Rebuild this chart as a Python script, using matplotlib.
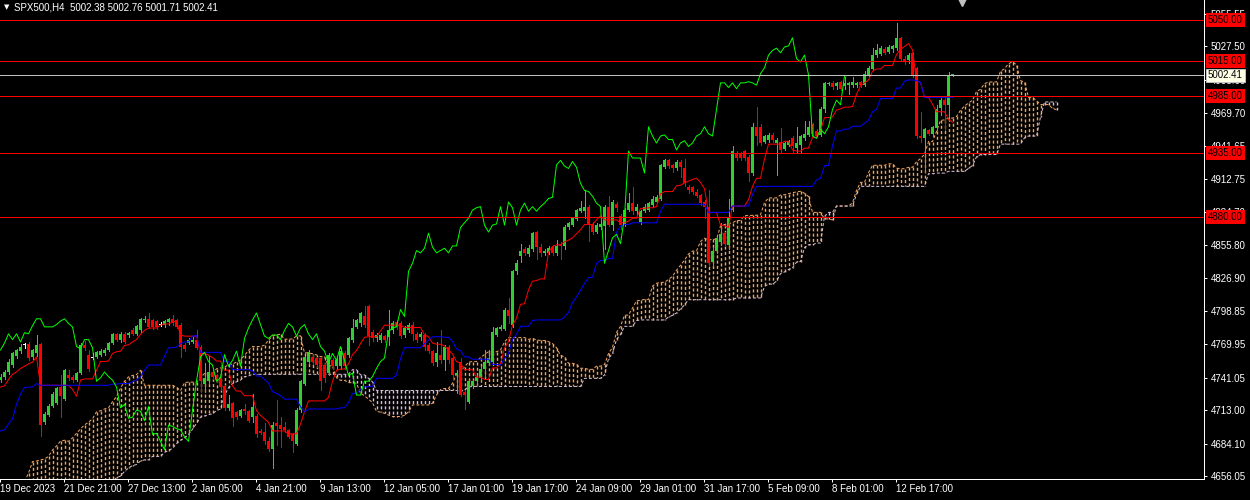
import numpy as np
import pandas as pd
import matplotlib
matplotlib.use("Agg")
import matplotlib.pyplot as plt
from matplotlib import transforms

plt.rcParams['font.family'] = ['Liberation Sans', 'DejaVu Sans']

# SPX500 H4 candles, bar 0 = first bar on screen (19 Dec 2023)
opens = [4739, 4742, 4746, 4752, 4760, 4764, 4769, 4770, 4759, 4762,
         4770, 4703, 4709, 4717, 4719, 4733, 4723, 4743, 4742, 4739,
         4745, 4769, 4761, 4758, 4759, 4761, 4762, 4765, 4771, 4779,
         4774, 4779, 4778, 4782, 4779, 4782, 4791, 4792, 4791, 4790,
         4787, 4787, 4789, 4792, 4791, 4787, 4769, 4771, 4772, 4774,
         4768, 4736, 4738, 4746, 4743, 4742, 4734, 4715, 4719, 4711,
         4708, 4714, 4712, 4707, 4708, 4695, 4694, 4686, 4679, 4702,
         4700, 4698, 4696, 4692, 4684, 4713, 4736, 4755, 4759, 4758,
         4758, 4752, 4745, 4756, 4751, 4751, 4762, 4761, 4774, 4785,
         4788, 4794, 4803, 4781, 4775, 4774, 4777, 4776, 4782, 4789,
         4788, 4778, 4782, 4787, 4779, 4776, 4778, 4769, 4764, 4755,
         4761, 4756, 4768, 4758, 4743, 4755, 4729, 4720, 4734, 4738,
         4741, 4749, 4754, 4755, 4778, 4783, 4783, 4800, 4787, 4833,
         4846, 4852, 4848, 4852, 4867, 4854, 4849, 4849, 4854, 4849,
         4856, 4855, 4871, 4873, 4878, 4885, 4885, 4889, 4874, 4867,
         4871, 4872, 4889, 4873, 4891, 4881, 4873, 4886, 4892, 4885,
         4876, 4885, 4886, 4890, 4893, 4896, 4923, 4929, 4925, 4922,
         4928, 4922, 4906, 4906, 4902, 4899, 4893, 4889, 4841, 4851,
         4858, 4866, 4856, 4886, 4935, 4935, 4937, 4932, 4918, 4958,
         4958, 4945, 4947, 4951, 4944, 4945, 4939, 4942, 4948, 4940,
         4942, 4948, 4951, 4960, 4954, 4951, 4973, 4995, 4996, 4993,
         4997, 4993, 4994, 4994, 4994, 4997, 4994, 5003, 5008, 5020,
         5021, 5025, 5023, 5025, 5026, 5035, 5017, 5016, 5022, 5009,
         4950, 4948, 4955, 4952, 4957, 4974, 4981, 4977, 5002.38]
highs = [4744, 4748, 4757, 4763, 4766, 4770, 4771, 4772, 4766, 4778,
         4771, 4711, 4718, 4729, 4733, 4743, 4749, 4748, 4743, 4746,
         4771, 4773, 4765, 4762, 4764, 4766, 4767, 4772, 4780, 4780,
         4781, 4781, 4781, 4784, 4787, 4793, 4794, 4797, 4792, 4791,
         4789, 4791, 4793, 4795, 4792, 4788, 4771, 4775, 4776, 4782,
         4769, 4754, 4760, 4748, 4744, 4752, 4735, 4726, 4720, 4712,
         4714, 4718, 4713, 4727, 4710, 4697, 4702, 4690, 4703, 4722,
         4707, 4703, 4697, 4693, 4715, 4739, 4760, 4765, 4761, 4759,
         4759, 4754, 4762, 4758, 4758, 4767, 4764, 4776, 4792, 4792,
         4798, 4803, 4804, 4782, 4780, 4780, 4778, 4800, 4790, 4791,
         4790, 4786, 4788, 4789, 4781, 4781, 4780, 4771, 4765, 4772,
         4782, 4769, 4769, 4759, 4748, 4758, 4730, 4739, 4739, 4743,
         4751, 4765, 4765, 4785, 4785, 4787, 4801, 4810, 4834, 4843,
         4857, 4854, 4856, 4867, 4868, 4857, 4852, 4855, 4856, 4860,
         4858, 4873, 4876, 4880, 4887, 4894, 4903, 4890, 4876, 4875,
         4876, 4890, 4898, 4895, 4893, 4883, 4888, 4901, 4906, 4891,
         4886, 4891, 4893, 4898, 4899, 4926, 4930, 4930, 4926, 4929,
         4929, 4930, 4908, 4907, 4904, 4900, 4895, 4903, 4853, 4864,
         4875, 4867, 4896, 4941, 4937, 4936, 4938, 4934, 4961, 4975,
         4960, 4951, 4953, 4953, 4948, 4957, 4945, 4947, 4950, 4958,
         4951, 4963, 4963, 4961, 4956, 4975, 4997, 4997, 4998, 4997,
         4998, 5001, 4997, 5001, 4997, 4998, 5006, 5011, 5026, 5030,
         5028, 5027, 5029, 5029, 5048, 5036, 5019, 5022, 5023, 5010,
         4971, 4957, 4956, 4959, 4977, 4983, 4984, 5005, 5002.76]
lows = [4737, 4740, 4744, 4750, 4758, 4762, 4767, 4756, 4757, 4760,
        4691, 4701, 4708, 4716, 4718, 4707, 4722, 4739, 4737, 4738,
        4744, 4765, 4747, 4757, 4758, 4760, 4761, 4764, 4770, 4773,
        4772, 4771, 4776, 4778, 4778, 4781, 4789, 4784, 4783, 4783,
        4786, 4785, 4787, 4787, 4784, 4759, 4764, 4770, 4771, 4766,
        4729, 4729, 4736, 4740, 4737, 4730, 4713, 4713, 4699, 4705,
        4707, 4710, 4703, 4703, 4690, 4692, 4684, 4678, 4663, 4683,
        4681, 4694, 4689, 4677, 4683, 4711, 4735, 4753, 4753, 4750,
        4730, 4737, 4743, 4749, 4749, 4749, 4749, 4759, 4772, 4784,
        4786, 4785, 4769, 4773, 4773, 4772, 4772, 4769, 4780, 4783,
        4775, 4776, 4781, 4774, 4772, 4774, 4765, 4762, 4752, 4751,
        4754, 4748, 4754, 4741, 4728, 4725, 4714, 4719, 4732, 4735,
        4739, 4742, 4752, 4753, 4777, 4782, 4782, 4788, 4785, 4831,
        4841, 4847, 4846, 4851, 4844, 4846, 4847, 4848, 4847, 4847,
        4844, 4852, 4870, 4872, 4877, 4884, 4879, 4859, 4865, 4866,
        4870, 4852, 4872, 4869, 4885, 4870, 4872, 4885, 4883, 4883,
        4874, 4884, 4885, 4889, 4892, 4895, 4922, 4922, 4919, 4921,
        4915, 4907, 4901, 4900, 4897, 4890, 4879, 4838, 4838, 4849,
        4856, 4856, 4852, 4885, 4929, 4929, 4929, 4911, 4916, 4942,
        4942, 4944, 4945, 4945, 4916, 4935, 4938, 4941, 4935, 4935,
        4935, 4947, 4950, 4950, 4949, 4950, 4971, 4994, 4991, 4991,
        4990, 4991, 4986, 4992, 4992, 4992, 4993, 5002, 5007, 5018,
        5020, 5021, 5022, 5023, 5024, 5015, 5012, 5013, 5001, 4948,
        4945, 4919, 4951, 4950, 4955, 4968, 4955, 4963, 5001.71]
closes = [4742, 4746, 4755, 4762, 4765, 4768, 4769, 4758, 4765, 4769,
          4700, 4710, 4717, 4727, 4732, 4725, 4748, 4741, 4739, 4745,
          4769, 4767, 4749, 4758, 4763, 4764, 4765, 4771, 4779, 4774,
          4779, 4772, 4780, 4779, 4786, 4792, 4792, 4785, 4785, 4785,
          4787, 4790, 4792, 4788, 4785, 4768, 4766, 4774, 4774, 4767,
          4738, 4741, 4746, 4742, 4739, 4733, 4715, 4718, 4706, 4707,
          4713, 4712, 4704, 4716, 4692, 4693, 4686, 4679, 4700, 4699,
          4697, 4696, 4690, 4686, 4713, 4738, 4759, 4763, 4755, 4752,
          4738, 4741, 4761, 4751, 4756, 4764, 4751, 4775, 4784, 4791,
          4797, 4787, 4777, 4775, 4778, 4778, 4774, 4782, 4788, 4785,
          4777, 4784, 4787, 4779, 4774, 4779, 4768, 4764, 4754, 4762,
          4756, 4768, 4756, 4743, 4745, 4726, 4726, 4738, 4738, 4742,
          4749, 4755, 4758, 4781, 4784, 4785, 4800, 4794, 4833, 4840,
          4851, 4849, 4853, 4866, 4854, 4849, 4851, 4853, 4849, 4855,
          4855, 4871, 4875, 4879, 4886, 4888, 4889, 4873, 4867, 4873,
          4874, 4889, 4873, 4893, 4888, 4873, 4886, 4892, 4885, 4889,
          4885, 4889, 4892, 4896, 4897, 4925, 4929, 4924, 4922, 4928,
          4923, 4909, 4903, 4902, 4898, 4892, 4889, 4840, 4851, 4862,
          4865, 4857, 4880, 4937, 4931, 4931, 4931, 4918, 4958, 4950,
          4944, 4950, 4951, 4947, 4947, 4938, 4944, 4946, 4941, 4944,
          4950, 4952, 4958, 4952, 4950, 4973, 4996, 4996, 4992, 4996,
          4991, 4996, 4996, 4997, 4996, 4994, 5004, 5009, 5020, 5024,
          5026, 5022, 5027, 5028, 5035, 5017, 5014, 5020, 5003, 4950,
          4948, 4956, 4952, 4958, 4973, 4981, 4977, 5002, 5002.41]

# bars before the screen (early December), only feed the ichimoku windows
pre_high = [4566, 4560, 4572, 4588, 4592, 4585, 4578, 4570, 4565, 4568,
            4575, 4580, 4574, 4569, 4572, 4578, 4580, 4576, 4579, 4584,
            4590, 4582, 4576, 4570, 4566, 4568, 4572, 4570, 4566, 4562,
            4560, 4568, 4575, 4580, 4585, 4583, 4590, 4588, 4595, 4600,
            4602, 4605, 4604, 4608, 4612, 4618, 4622, 4625, 4632, 4640,
            4648, 4650, 4652, 4655, 4658, 4665, 4695, 4712, 4720, 4738,
            4730, 4715, 4718, 4720, 4722, 4725, 4722, 4728, 4730, 4734,
            4738, 4742, 4745, 4744, 4746, 4750, 4746]
pre_low = [4552, 4548, 4550, 4566, 4575, 4570, 4560, 4555, 4549, 4552,
           4560, 4563, 4558, 4553, 4556, 4562, 4566, 4560, 4562, 4568,
           4572, 4565, 4558, 4554, 4550, 4553, 4558, 4555, 4551, 4548,
           4546, 4550, 4555, 4558, 4562, 4560, 4565, 4562, 4568, 4570,
           4568, 4575, 4578, 4582, 4590, 4596, 4600, 4606, 4615, 4625,
           4636, 4638, 4640, 4642, 4645, 4648, 4670, 4684, 4695, 4705,
           4705, 4694, 4700, 4703, 4706, 4708, 4705, 4710, 4712, 4716,
           4718, 4722, 4725, 4726, 4728, 4731, 4734]

levels = [5050.00, 5015.00, 4985.00, 4935.00, 4880.00]
price_ticks = [5055.55, 5027.50, 4998.60, 4969.70, 4941.65, 4912.75, 4884.70,
               4855.80, 4826.90, 4798.85, 4769.95, 4741.05, 4713.00, 4684.10,
               4656.05]
date_ticks = [-1, 15, 31, 47, 63, 79, 95, 111, 127, 143, 159, 175, 191, 207, 223]
date_labels = ['19 Dec 2023', '21 Dec 21:00', '27 Dec 13:00', '2 Jan 05:00',
               '4 Jan 21:00', '9 Jan 13:00', '12 Jan 05:00', '17 Jan 01:00',
               '19 Jan 17:00', '24 Jan 09:00', '29 Jan 01:00', '31 Jan 17:00',
               '5 Feb 09:00', '8 Feb 01:00', '12 Feb 17:00']

# ichimoku 9 / 26 / 52
npre = len(pre_high)
hi = pd.Series(pre_high + highs, dtype=float)
lo = pd.Series(pre_low + lows, dtype=float)


def midpoint(n):
    return ((hi.rolling(n).max() + lo.rolling(n).min()) / 2).to_numpy()


tenkan = midpoint(9)
kijun = midpoint(26)
span_a = (tenkan + kijun) / 2
span_b = midpoint(52)
pos = np.arange(len(hi)) - npre
shift = 26

o = np.array(opens, dtype=float)
h = np.array(highs, dtype=float)
l = np.array(lows, dtype=float)
c = np.array(closes, dtype=float)
bars = np.arange(len(c))

px = 0.72  # one pixel in points at dpi 100
sandy = '#f4a460'
thistle = '#d8bfd8'
fig = plt.figure(figsize=(12.5, 5), dpi=100, facecolor='black')
ax = fig.add_axes([0, 21 / 500, 1204 / 1250, 479 / 500])
ax.set_facecolor('black')

# cloud: one dotted vertical stroke per bar between span A and span B
cx = pos + shift
for x, a, b in zip(cx, span_a, span_b):
    if x < -1 or np.isnan(a) or np.isnan(b):
        continue
    ax.plot([x, x], [max(a, b), min(a, b)], color=sandy if a >= b else thistle,
            lw=1.0, ls=(0, (2.2, 1.6)), solid_capstyle='butt', zorder=1)
ok = (cx >= -1) & ~np.isnan(span_a) & ~np.isnan(span_b)
ax.plot(cx[ok], span_a[ok], color=sandy, lw=px, ls=(0, (3, 2)), zorder=1)
ax.plot(cx[ok], span_b[ok], color=thistle, lw=px, ls=(0, (3, 2)), zorder=1)

# candles
col = np.where(c > o, '#32cd32', np.where(c < o, '#ff0000', '#ffffff'))
ax.vlines(bars, l, h, colors=col, linewidth=px, antialiased=False, zorder=2)
ax.bar(bars, np.maximum(np.abs(c - o), 0.9), bottom=np.minimum(o, c), width=0.75,
       color=col, linewidth=0, antialiased=False, zorder=2)

# ichimoku lines
vis = pos >= 0
ax.plot(pos[vis], tenkan[vis], color='#ff0000', lw=px, zorder=3)
ax.plot(pos[vis], kijun[vis], color='#0000ff', lw=px, zorder=3)
ax.plot(bars - shift, c, color='#00ff00', lw=px, zorder=3)

# horizontal levels and last price
for lv in levels:
    ax.axhline(lv, color='#ff0000', lw=px, zorder=4)
ax.axhline(c[-1], color='#c0c0c0', lw=px, zorder=4)

ax.set_xlim(-0.125, 300.875)
ax.set_ylim(5067.65 - 479 * 0.8647, 5067.65)

for s in ['left', 'top']:
    ax.spines[s].set_visible(False)
for s in ['right', 'bottom']:
    ax.spines[s].set_color('white')
    ax.spines[s].set_linewidth(px)

ax.yaxis.tick_right()
ax.set_yticks(price_ticks)
ax.set_yticklabels([f'{v:.2f}' for v in price_ticks])
ax.tick_params(axis='y', colors='white', labelsize=7, length=2.2, width=px, pad=2.5)
ax.set_xticks([t + 0.875 for t in date_ticks])
ax.set_xticklabels(date_labels, ha='left')
ax.tick_params(axis='x', colors='white', labelsize=7, length=2.2, width=px, pad=1.5)

# price boxes on the right scale
lab_tr = transforms.offset_copy(
    transforms.blended_transform_factory(ax.transAxes, ax.transData),
    fig=fig, x=4, y=0, units='dots')
for lv in levels:
    ax.text(1.0, lv, f'{lv:.2f}', transform=lab_tr, ha='left', va='center',
            fontsize=7, color='black', clip_on=False, zorder=10,
            bbox=dict(boxstyle='square,pad=0.2', fc='#ff0000', ec='none'))
ax.text(1.0, c[-1], f'{c[-1]:.2f}', transform=lab_tr, ha='left', va='center',
        fontsize=7, color='black', clip_on=False, zorder=11,
        bbox=dict(boxstyle='square,pad=0.2', fc='#ffffe6', ec='#c0c0c0', lw=px))

# header and chart shift marker
fig.text(4 / 1250, 1 - 7 / 500, '▼', color='white', fontsize=5, va='center',
         family=['DejaVu Sans'])
fig.text(14 / 1250, 1 - 7 / 500,
         f'SPX500,H4  {opens[-1]:.2f} {highs[-1]:.2f} {lows[-1]:.2f} {closes[-1]:.2f}',
         color='white', fontsize=7, va='center')
ax.plot([962 / 1204], [1 - 2 / 479], marker='v', ms=5.5, color='#c0c0c0',
        transform=ax.transAxes, clip_on=False)

fig.savefig('out.png', dpi=100, facecolor='black')
